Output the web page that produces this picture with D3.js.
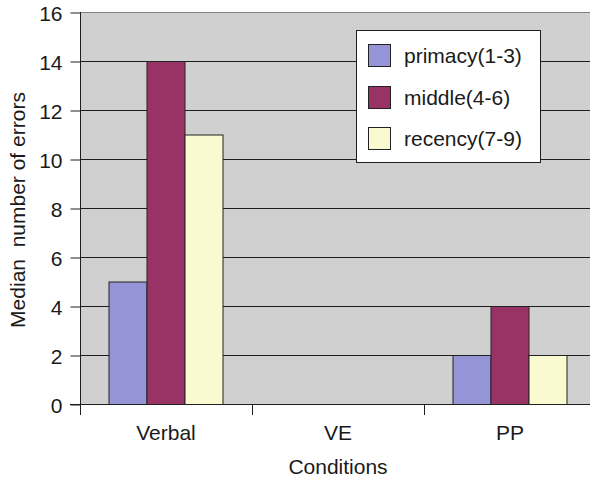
<!DOCTYPE html>
<html><head><meta charset="utf-8">
<script src="https://cdn.jsdelivr.net/npm/d3@7"></script>
<style>body{margin:0;background:#fff}svg{display:block}text{font-family:"Liberation Sans",Arial,sans-serif;fill:#1a1a1a}</style>
</head><body>
<script>
const categories = ["Verbal", "VE", "PP"];
const seriesNames = ["primacy(1-3)", "middle(4-6)", "recency(7-9)"];
const primacy = [5, 0, 2];
const middle = [14, 0, 4];
const recency = [11, 0, 2];
const yTicks = [0, 2, 4, 6, 8, 10, 12, 14, 16];
const colors = ["#9494d6", "#993366", "#fafad0"];
const seriesValues = [primacy, middle, recency];

(function () {
const W = 590, H = 478, FS = 21;
const svg = d3.select("body").append("svg").attr("width", W).attr("height", H);
const pL = 80, pR = 596, pT = 12, pB = 404;

const x = d3.scaleBand().domain(categories).range([pL, pR]).paddingInner(0).paddingOuter(0);
const x1 = d3.scaleBand().domain(seriesNames).range([0, x.bandwidth()]).paddingOuter(0.763).paddingInner(0);
const y = d3.scaleLinear().domain([0, 16]).range([pB, pT]);

svg.append("rect").attr("x", pL).attr("y", pT).attr("width", pR - pL).attr("height", pB - pT).attr("fill", "#d0d0d0");

svg.append("g").selectAll("line").data(yTicks.filter(d => d > 0 && d < 16)).join("line")
  .attr("x1", pL).attr("x2", pR).attr("y1", d => y(d) + 0.5).attr("y2", d => y(d) + 0.5)
  .attr("stroke", "#1e1e1e").attr("stroke-width", 1);
svg.append("line").attr("x1", pL).attr("x2", pR).attr("y1", pT + 0.5).attr("y2", pT + 0.5).attr("stroke", "#808080");

const g = svg.append("g");
categories.forEach((c, i) => {
  seriesNames.forEach((s, j) => {
    const v = seriesValues[j][i];
    if (v > 0) {
      g.append("rect").attr("x", x(c) + x1(s)).attr("y", y(v) + 0.5)
        .attr("width", x1.bandwidth()).attr("height", y(0) - y(v))
        .attr("fill", colors[j]).attr("stroke", "#222").attr("stroke-width", 1);
    }
  });
});

const yAxis = d3.axisLeft(y).tickValues(yTicks).tickSize(10).tickPadding(8);
const ya = svg.append("g").attr("transform", `translate(${pL + 0.5},0)`).call(yAxis);
ya.select(".domain").attr("stroke", "#1e1e1e").attr("d", `M0,${pT}V${pB}`);
ya.selectAll(".tick line").attr("stroke", "#1e1e1e").attr("transform", "translate(0,0.5)");
ya.selectAll(".tick text").attr("font-size", FS).attr("fill", "#1a1a1a").attr("font-family", "Liberation Sans, Arial, sans-serif").attr("dy", "0.4em");

svg.append("line").attr("x1", pL - 10).attr("x2", pR).attr("y1", pB + 0.5).attr("y2", pB + 0.5).attr("stroke", "#1e1e1e");
const tickXs = categories.map(c => x(c)).concat([pR]);
svg.append("g").selectAll("line").data(tickXs).join("line")
  .attr("x1", d => Math.round(d) + 0.5).attr("x2", d => Math.round(d) + 0.5)
  .attr("y1", pB).attr("y2", pB + 11).attr("stroke", "#1e1e1e");
svg.append("g").selectAll("text").data(categories).join("text")
  .attr("x", d => x(d) + x.bandwidth() / 2).attr("y", 440).attr("text-anchor", "middle")
  .attr("font-size", FS).text(d => d);

svg.append("text").attr("x", 338).attr("y", 474).attr("text-anchor", "middle").attr("font-size", FS).text("Conditions");
svg.append("text").attr("transform", "translate(25,210) rotate(-90)").attr("text-anchor", "middle")
  .attr("font-size", FS).style("white-space", "pre").text("Median  number of errors");

const lg = svg.append("g");
lg.append("rect").attr("x", 356.5).attr("y", 30.5).attr("width", 184).attr("height", 132).attr("fill", "#fff").attr("stroke", "#1e1e1e");
seriesNames.forEach((s, j) => {
  const yy = [44, 86, 127][j];
  lg.append("rect").attr("x", 368.5).attr("y", yy + 0.5).attr("width", 22).attr("height", 22)
    .attr("fill", colors[j]).attr("stroke", "#222");
  lg.append("text").attr("x", 404).attr("y", yy + 11).attr("dy", "0.36em").attr("font-size", FS).text(s);
});
})();
</script>
</body></html>
